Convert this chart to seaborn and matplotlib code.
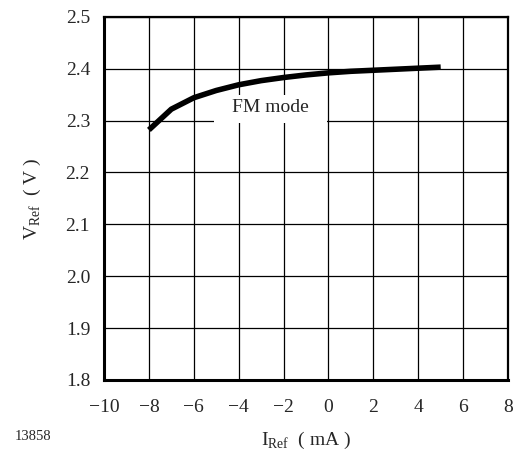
import numpy as np
import pandas as pd
import matplotlib
matplotlib.use('Agg')
import matplotlib.pyplot as plt
from matplotlib.patches import Rectangle
import seaborn as sns

# values
i_ref = [-8, -7, -6, -5, -4, -3, -2, -1, 0, 1, 2, 3, 4, 5]
v_ref = [2.282, 2.322, 2.344, 2.358, 2.369, 2.377, 2.383, 2.388, 2.392, 2.395, 2.397, 2.399, 2.401, 2.403]
x_ticks = [-10, -8, -6, -4, -2, 0, 2, 4, 6, 8]
y_ticks = [1.8, 1.9, 2.0, 2.1, 2.2, 2.3, 2.4, 2.5]

df = pd.DataFrame({'I_Ref': i_ref, 'V_Ref': v_ref})

sns.set_style('white')
plt.rcParams['font.family'] = ['Liberation Serif', 'DejaVu Serif']
plt.rcParams['mathtext.fontset'] = 'custom'
plt.rcParams['mathtext.rm'] = 'Liberation Serif'

fig = plt.figure(figsize=(5.2, 4.55), dpi=100)
ax = fig.add_axes([0.2, 0.165, 0.777, 0.798])

ax.set_xlim(-10, 8)
ax.set_ylim(1.8, 2.5)
ax.set_xticks(x_ticks)
ax.set_yticks(y_ticks)
ax.set_xticklabels(['\u2212' + str(-t) if t < 0 else str(t) for t in x_ticks])
ax.set_yticklabels([f'{t:.1f}' for t in y_ticks])
ax.tick_params(length=0, labelsize=14)
ax.tick_params(axis='x', pad=14)
ax.tick_params(axis='y', pad=10)
ax.grid(True, color='black', linewidth=0.9)
ax.set_axisbelow(True)

sns.lineplot(data=df, x='I_Ref', y='V_Ref', color='black', linewidth=4, ax=ax,
             solid_capstyle='butt', zorder=3)

# white box behind the label, breaking the grid lines
ax.add_patch(Rectangle((0.272, 0.708), 0.28, 0.077, transform=ax.transAxes,
                       facecolor='white', edgecolor='none', zorder=1.5))
ax.text(0.413, 0.749, 'FM mode', fontsize=14, ha='center', va='center',
        transform=ax.transAxes, zorder=2)

for side in ['left', 'bottom']:
    ax.spines[side].set_linewidth(2.2)
for side in ['top', 'right']:
    ax.spines[side].set_linewidth(1.6)
for s in ax.spines.values():
    s.set_color('black')
    s.set_zorder(4)

ax.set_xlabel('I$_{\\mathrm{Ref}}$  ( mA )', fontsize=14, labelpad=10)
ax.set_ylabel('V$_{\\mathrm{Ref}}$  ( V )', fontsize=14, labelpad=16)
fig.text(0.028, 0.032, '13858', fontsize=10.5)

fig.savefig('out.png', dpi=100)
